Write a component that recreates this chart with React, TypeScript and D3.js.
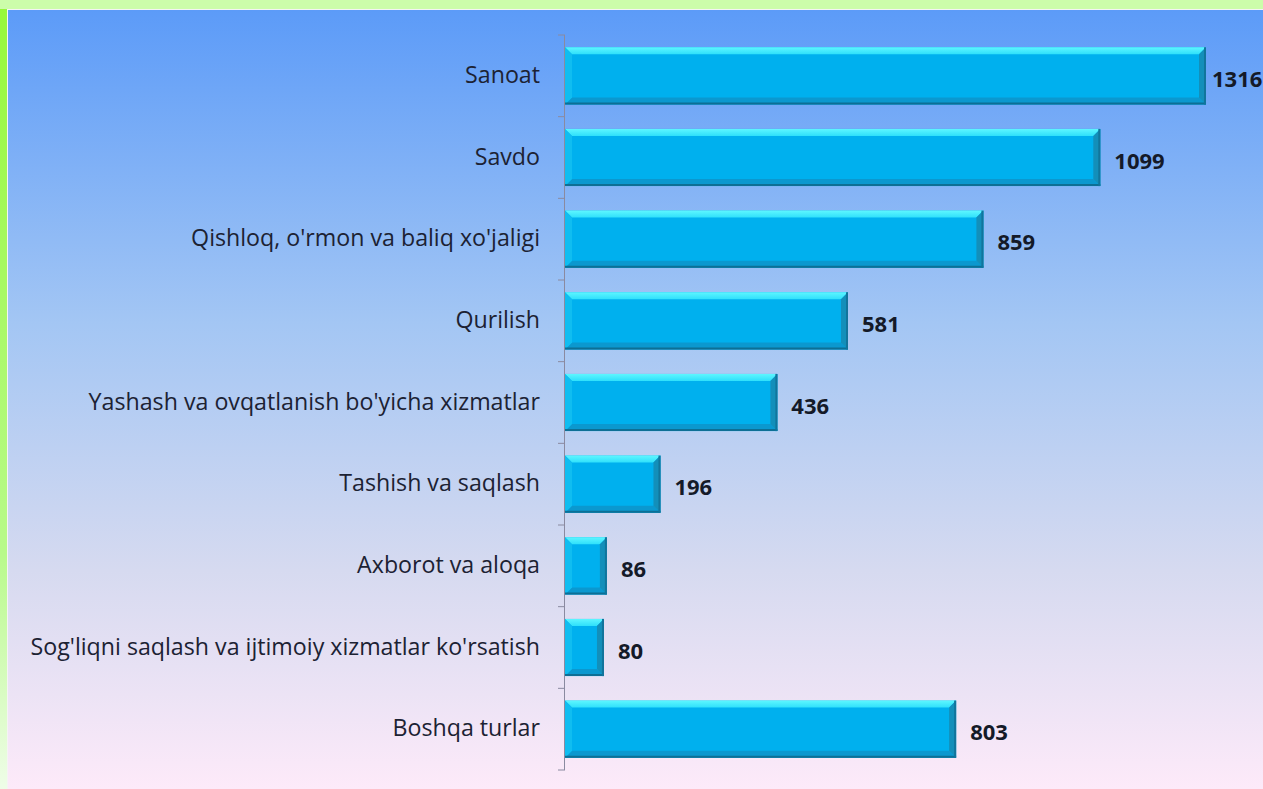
import * as d3 from 'd3'

const categories = [
  'Sanoat',
  'Savdo',
  "Qishloq, o'rmon va baliq xo'jaligi",
  'Qurilish',
  "Yashash va ovqatlanish bo'yicha xizmatlar",
  'Tashish va saqlash',
  'Axborot va aloqa',
  "Sog'liqni saqlash va ijtimoiy xizmatlar ko'rsatish",
  'Boshqa turlar',
]
const values = [1316, 1099, 859, 581, 436, 196, 86, 80, 803]

const W = 1263
const H = 789
const margin = { top: 35, right: 57, bottom: 19, left: 565 }
const bevel = 7
const font = "'Open Sans', 'Liberation Sans', sans-serif"

export default function App() {
  const x = d3.scaleLinear().domain([0, 1316]).range([margin.left, W - margin.right])
  const y = d3
    .scaleBand<string>()
    .domain(categories)
    .range([margin.top, H - margin.bottom])
    .paddingInner(0.3)
    .paddingOuter(0.15)
  const bh = y.bandwidth()
  // tick marks sit on band boundaries
  const ticks = d3.range(categories.length + 1).map((i) => margin.top + i * ((H - margin.bottom - margin.top) / categories.length))

  return (
    <div style={{ position: 'fixed', left: 0, top: 0, width: W, height: H }}>
      <svg width={W} height={H} style={{ display: 'block' }}>
        <defs>
          <linearGradient id="bg" x1="0" y1="0" x2="0" y2="1">
            <stop offset="0" stopColor="#5c9bf8" />
            <stop offset="0.4" stopColor="#a3c6f4" />
            <stop offset="0.72" stopColor="#d6daf0" />
            <stop offset="1" stopColor="#fdeaf9" />
          </linearGradient>
          <linearGradient id="leftBorder" x1="0" y1="0" x2="0" y2="1">
            <stop offset="0" stopColor="#96f83a" />
            <stop offset="0.7" stopColor="#b8fa8a" />
            <stop offset="1" stopColor="#effde8" />
          </linearGradient>
          <linearGradient id="topBevel" x1="0" y1="0" x2="0" y2="1">
            <stop offset="0" stopColor="#5ef6ff" />
            <stop offset="1" stopColor="#2fe0fb" />
          </linearGradient>
        </defs>
        <rect x={0} y={0} width={W} height={H} fill="url(#leftBorder)" />
        <rect x={0} y={0} width={W} height={9} fill="#ccfdaa" />
        <rect x={7} y={9} width={W - 7} height={H - 9} fill="#f4f4f4" />
        <rect x={8} y={10} width={W - 8} height={H - 10} fill="url(#bg)" />

        {/* axis */}
        <line x1={margin.left - 0.5} x2={margin.left - 0.5} y1={ticks[0]} y2={ticks[ticks.length - 1]} stroke="#8a8aa0" strokeWidth={1} />
        {ticks.map((t, i) => (
          <line key={i} x1={margin.left - 7} x2={margin.left} y1={t} y2={t} stroke="#8a8aa0" strokeWidth={1} />
        ))}

        {categories.map((c, i) => {
          const x0 = x(0)
          const x1 = x(values[i])
          const y0 = y(c) ?? 0
          const y1 = y0 + bh
          const b = bevel
          return (
            <g key={c}>
              <rect x={x0} y={y0} width={x1 - x0} height={bh} fill="#00b0ee" />
              <polygon points={`${x0},${y0} ${x1},${y0} ${x1 - b},${y0 + b} ${x0 + b},${y0 + b}`} fill="url(#topBevel)" />
              <polygon points={`${x0},${y1} ${x1},${y1} ${x1 - b},${y1 - b} ${x0 + b},${y1 - b}`} fill="#0b98cf" />
              <polygon points={`${x1},${y0} ${x1},${y1} ${x1 - b},${y1 - b} ${x1 - b},${y0 + b}`} fill="#138fba" />
              <polygon points={`${x0},${y0} ${x0},${y1} ${x0 + b},${y1 - b} ${x0 + b},${y0 + b}`} fill="#10bdf0" />
              <line x1={x0} x2={x1} y1={y1 - 1} y2={y1 - 1} stroke="#0d6f95" strokeWidth={2} />
              <line x1={x1 - 1} x2={x1 - 1} y1={y0} y2={y1} stroke="#11759c" strokeWidth={2} />
              <text
                x={margin.left - 25}
                y={y0 + bh / 2 - 2}
                textAnchor="end"
                dominantBaseline="central"
                fontFamily={font}
                fontSize={23.2}
                fill="#1c2233"
              >
                {c}
              </text>
              <text
                x={Math.min(x1 + 14, W - 51)}
                y={y0 + bh / 2 + 2}
                dominantBaseline="central"
                fontFamily={font}
                fontWeight="bold"
                fontSize={22}
                fill="#141a28"
              >
                {values[i]}
              </text>
            </g>
          )
        })}
      </svg>
    </div>
  )
}
